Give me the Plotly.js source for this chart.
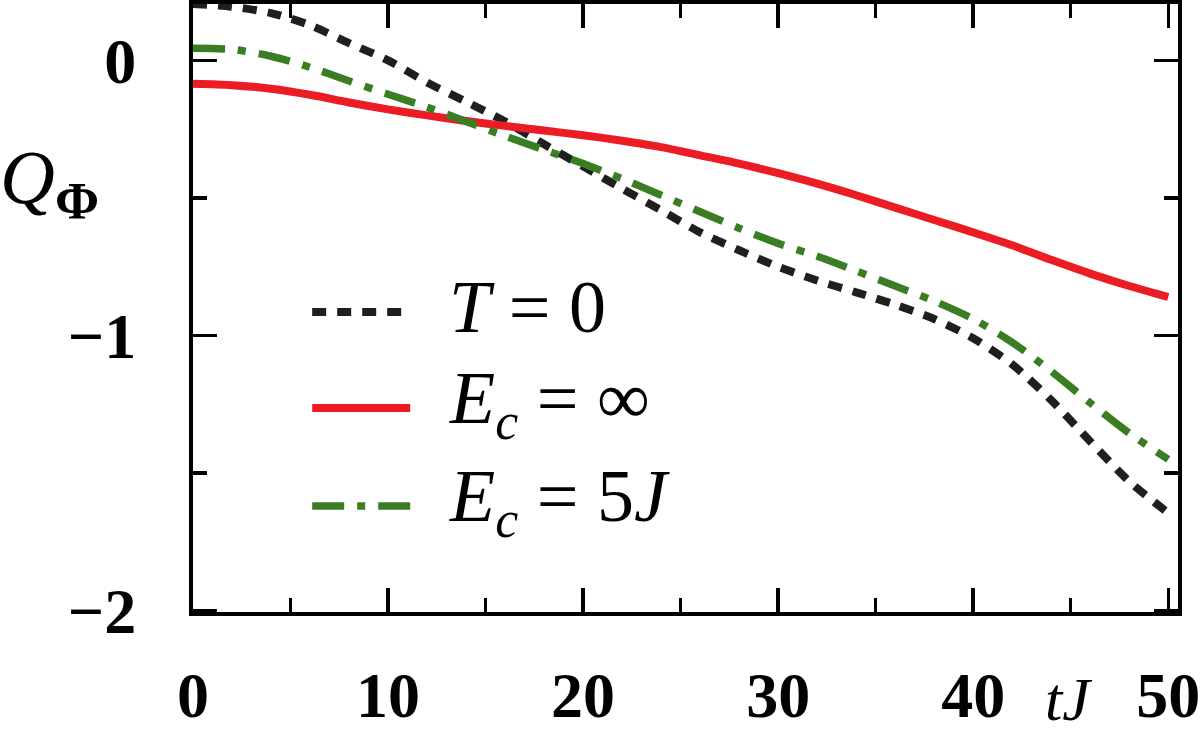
<!DOCTYPE html>
<html>
<head>
<meta charset="utf-8">
<script src="https://cdn.plot.ly/plotly-3.0.1.min.js"></script>
<style>
  html, body { margin: 0; padding: 0; background: #fff; }
  #plot { width: 1200px; height: 741px; }
</style>
</head>
<body>
<div id="plot"></div>
<script>
// time axis tJ
var t = [0, 2, 4, 6, 8, 10, 12, 14, 16, 18, 20, 22, 24, 26, 28, 30, 32, 34, 36, 38, 40, 42, 44, 46, 48, 50];

// Q_Phi for T = 0
var qT0 = [0.205, 0.195, 0.172, 0.128, 0.063, 0.0, -0.08, -0.15, -0.222, -0.305, -0.385, -0.466, -0.545, -0.625, -0.69, -0.75,
           -0.80, -0.843, -0.888, -0.94, -1.01, -1.105, -1.235, -1.385, -1.53, -1.645];
// Q_Phi for E_c = infinity
var qInf = [-0.085, -0.09, -0.103, -0.125, -0.153, -0.178, -0.2, -0.22, -0.238, -0.255, -0.272, -0.292, -0.315, -0.345, -0.375, -0.41,
            -0.448, -0.49, -0.535, -0.58, -0.625, -0.672, -0.725, -0.775, -0.82, -0.86];
// Q_Phi for E_c = 5J
var q5J = [0.044, 0.04, 0.015, -0.025, -0.075, -0.123, -0.17, -0.222, -0.275, -0.325, -0.375, -0.43, -0.49, -0.55, -0.61, -0.665,
           -0.712, -0.765, -0.82, -0.875, -0.94, -1.025, -1.13, -1.245, -1.355, -1.45];

var names = ["<i>T</i> = 0", "<i>E<sub>c</sub></i> = ∞", "<i>E<sub>c</sub></i> = 5<i>J</i>"];
var colors = ["#1f1f1f", "#ec1c24", "#3a7d22"];
var dashes = ["14px,11px", "solid", "32px,13px,8px,13px"];
var widths = [8, 8, 7.5];
var series = [qT0, qInf, q5J];

var data = series.map(function (q, i) {
  return {
    x: t, y: q, type: "scatter", mode: "lines", name: names[i],
    line: { color: colors[i], width: widths[i], dash: dashes[i], shape: "spline", smoothing: 0.8 },
    showlegend: false
  };
});

var serif = "Liberation Serif, DejaVu Serif, serif";

var axisCommon = {
  showgrid: false, zeroline: false,
  showline: true, linecolor: "#000", linewidth: 4, mirror: "allticks",
  ticks: "inside", ticklen: 24, tickwidth: 3.5, tickcolor: "#000",
  tickfont: { family: serif, size: 64, color: "#000", weight: "bold" },
  ticklabeloverflow: "allow"
};

var xaxis = Object.assign({}, axisCommon, {
  range: [0, 50.5], tickvals: [0, 10, 20, 30, 40, 50],
  minor: { ticks: "inside", ticklen: 14, tickwidth: 3.5, tickcolor: "#000", tickvals: [5, 15, 25, 35, 45] },
  ticklabelstandoff: 24
});
var yaxis = Object.assign({}, axisCommon, {
  range: [-2.005, 0.205], tickvals: [0, -1, -2],
  minor: { ticks: "inside", ticklen: 14, tickwidth: 3.5, tickcolor: "#000", tickvals: [-0.5, -1.5] },
  ticklabelstandoff: 40
});

// hand-made legend (long line samples) in paper coordinates
var legX0 = 0.121, legX1 = 0.2205, legTextX = 0.258;
var legY = [0.4934, 0.3355, 0.1743];
var shapes = legY.map(function (y, i) {
  return {
    type: "line", xref: "paper", yref: "paper", x0: legX0, x1: legX1, y0: y, y1: y,
    line: { color: colors[i], width: widths[i], dash: dashes[i] }
  };
});
var annotations = legY.map(function (y, i) {
  return {
    xref: "paper", yref: "paper", x: legTextX, y: y + 0.008, xanchor: "left", yanchor: "middle",
    text: names[i], showarrow: false, font: { family: serif, size: 74, color: "#000" }
  };
});
annotations.push({
  xref: "paper", yref: "paper", x: -0.198, y: 0.705, xanchor: "left", yanchor: "middle",
  text: "<i>Q</i><sub><b>Φ</b></sub>", showarrow: false, font: { family: serif, size: 76, color: "#000" }
});
annotations.push({
  xref: "paper", yref: "paper", x: 0.889, y: -0.143, xanchor: "center", yanchor: "middle",
  text: "<i>tJ</i>", showarrow: false, font: { family: serif, size: 62, color: "#000" }
});

var layout = {
  width: 1200, height: 741,
  margin: { l: 193, r: 22, t: 4, b: 129 },
  paper_bgcolor: "#fff", plot_bgcolor: "#fff",
  xaxis: xaxis, yaxis: yaxis,
  shapes: shapes, annotations: annotations,
  showlegend: false
};

Plotly.newPlot("plot", data, layout, { staticPlot: true });
</script>
</body>
</html>
